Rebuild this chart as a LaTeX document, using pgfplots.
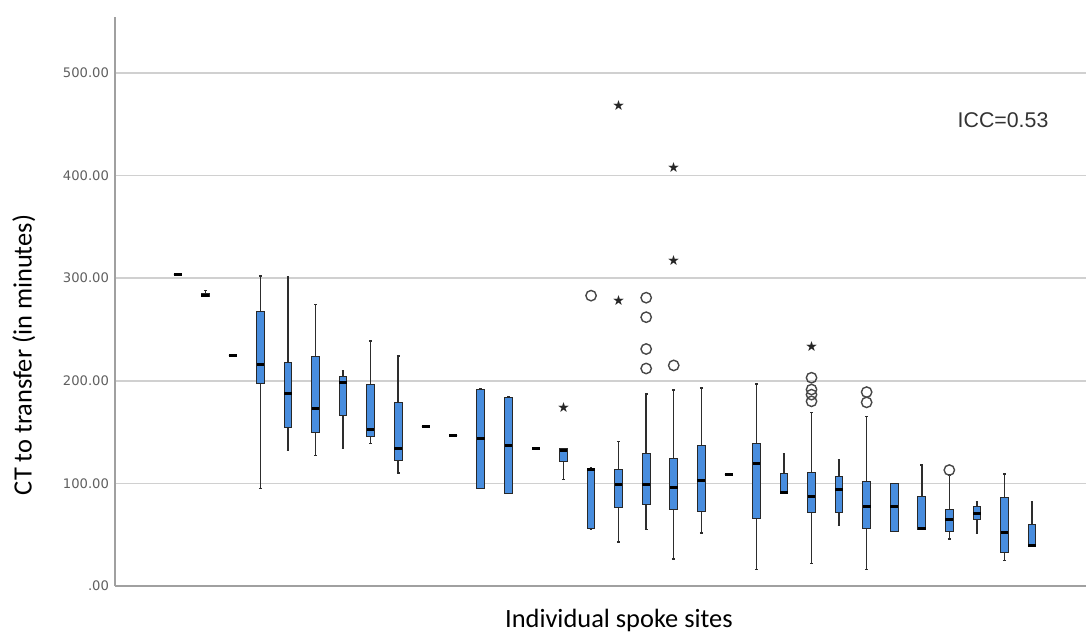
\documentclass[border=0pt]{standalone}
\usepackage{pgfplots}
\pgfplotsset{compat=1.18}
\usepgfplotslibrary{statistics}
\usepackage{fontspec}
\setmainfont{Liberation Sans}
\newfontfamily\calib{Carlito}
\newfontfamily\dejavu{DejaVu Sans}
\definecolor{boxblue}{RGB}{72,141,222}
\definecolor{boxedge}{RGB}{40,40,40}
\definecolor{whisk}{RGB}{45,45,45}
\definecolor{gridc}{RGB}{208,208,208}
\definecolor{axc}{RGB}{160,160,160}
\definecolor{tickc}{RGB}{95,95,95}
\begin{document}
\begin{tikzpicture}
\useasboundingbox (-115bp,-49bp) rectangle (971bp,586bp);
\begin{axis}[
  scale only axis,
  width=971bp, height=569bp,
  xmin=-1.275, xmax=33.96,
  ymin=0, ymax=554.6,
  axis x line*=bottom, axis y line*=left,
  axis line style={draw=axc, line width=1.8bp, -},
  xtick=\empty,
  ytick={0,100,200,300,400,500},
  yticklabels={.00,100.00,200.00,300.00,400.00,500.00},
  major tick length=0pt,
  ymajorgrids,
  grid style={draw=gridc, line width=1.5bp},
  yticklabel style={font=\dejavu\fontsize{13.2}{15}\selectfont, text=tickc, xshift=-2.5bp},
  xlabel={Individual spoke sites},
  xlabel style={font=\calib\fontsize{26.5}{30}\selectfont, at={(axis description cs:0.519,-0.0738)}, anchor=base},
  ylabel={CT to transfer (in minutes)},
  ylabel style={font=\calib\fontsize{26.5}{30}\selectfont, at={(axis description cs:-0.094,0.406)}, anchor=center, rotate=0},
  boxplot/draw direction=y,
  boxplot/box extend=0.28,
  boxplot/whisker extend=0.1,
  boxplot/every box/.style={draw=boxedge, fill=boxblue, line width=1bp},
  boxplot/every median/.style={draw=black, line width=3bp},
  boxplot/every whisker/.style={draw=whisk, line width=1.5bp},
  clip=false,
]
\addplot[boxplot prepared={draw position=1,lower whisker=304,lower quartile=304,median=304,upper quartile=304,upper whisker=304}] coordinates {};
\addplot[boxplot prepared={draw position=2,lower whisker=282,lower quartile=282,median=283,upper quartile=285,upper whisker=288}] coordinates {};
\addplot[boxplot prepared={draw position=3,lower whisker=225,lower quartile=225,median=225,upper quartile=225,upper whisker=225}] coordinates {};
\addplot[boxplot prepared={draw position=4,lower whisker=95,lower quartile=197,median=216,upper quartile=268,upper whisker=302}] coordinates {};
\addplot[boxplot prepared={draw position=5,lower whisker=132,lower quartile=154,median=188,upper quartile=218,upper whisker=301}] coordinates {};
\addplot[boxplot prepared={draw position=6,lower whisker=127,lower quartile=150,median=173,upper quartile=223.5,upper whisker=274.5}] coordinates {};
\addplot[boxplot prepared={draw position=7,lower whisker=134,lower quartile=166,median=198,upper quartile=204,upper whisker=210}] coordinates {};
\addplot[boxplot prepared={draw position=8,lower whisker=139,lower quartile=146,median=153,upper quartile=196,upper whisker=239}] coordinates {};
\addplot[boxplot prepared={draw position=9,lower whisker=110,lower quartile=122,median=134,upper quartile=179,upper whisker=224}] coordinates {};
\addplot[boxplot prepared={draw position=10,lower whisker=155,lower quartile=155,median=155,upper quartile=155,upper whisker=155}] coordinates {};
\addplot[boxplot prepared={draw position=11,lower whisker=147,lower quartile=147,median=147,upper quartile=147,upper whisker=147}] coordinates {};
\addplot[boxplot prepared={draw position=12,lower whisker=95.5,lower quartile=95.5,median=144,upper quartile=192,upper whisker=192}] coordinates {};
\addplot[boxplot prepared={draw position=13,lower whisker=90,lower quartile=90,median=137,upper quartile=184,upper whisker=184}] coordinates {};
\addplot[boxplot prepared={draw position=14,lower whisker=134,lower quartile=134,median=134,upper quartile=134,upper whisker=134}] coordinates {};
\addplot[boxplot prepared={draw position=15,lower whisker=104,lower quartile=121,median=132,upper quartile=134,upper whisker=134}] coordinates {};
\addplot[boxplot prepared={draw position=16,lower whisker=55,lower quartile=56.5,median=114,upper quartile=115,upper whisker=115}] coordinates {};
\addplot[boxplot prepared={draw position=17,lower whisker=43,lower quartile=76.5,median=98.5,upper quartile=114,upper whisker=141}] coordinates {};
\addplot[boxplot prepared={draw position=18,lower whisker=55,lower quartile=79.5,median=98.5,upper quartile=129,upper whisker=187}] coordinates {};
\addplot[boxplot prepared={draw position=19,lower whisker=26.5,lower quartile=75,median=96,upper quartile=124,upper whisker=191}] coordinates {};
\addplot[boxplot prepared={draw position=20,lower whisker=51.5,lower quartile=73,median=103,upper quartile=137,upper whisker=193}] coordinates {};
\addplot[boxplot prepared={draw position=21,lower whisker=109,lower quartile=109,median=109,upper quartile=109,upper whisker=109}] coordinates {};
\addplot[boxplot prepared={draw position=22,lower whisker=16,lower quartile=66,median=119.5,upper quartile=138.5,upper whisker=197}] coordinates {};
\addplot[boxplot prepared={draw position=23,lower whisker=90,lower quartile=90.5,median=91.5,upper quartile=110,upper whisker=129}] coordinates {};
\addplot[boxplot prepared={draw position=24,lower whisker=22,lower quartile=72,median=87,upper quartile=111,upper whisker=169}] coordinates {};
\addplot[boxplot prepared={draw position=25,lower whisker=59,lower quartile=71.5,median=94,upper quartile=106.5,upper whisker=123}] coordinates {};
\addplot[boxplot prepared={draw position=26,lower whisker=16,lower quartile=56,median=77,upper quartile=102,upper whisker=165}] coordinates {};
\addplot[boxplot prepared={draw position=27,lower whisker=53,lower quartile=53,median=77,upper quartile=100,upper whisker=100}] coordinates {};
\addplot[boxplot prepared={draw position=28,lower whisker=55,lower quartile=55.5,median=56,upper quartile=87,upper whisker=118}] coordinates {};
\addplot[boxplot prepared={draw position=29,lower whisker=46,lower quartile=53.5,median=65,upper quartile=75,upper whisker=108}] coordinates {};
\addplot[boxplot prepared={draw position=30,lower whisker=51,lower quartile=65,median=70.5,upper quartile=77,upper whisker=82}] coordinates {};
\addplot[boxplot prepared={draw position=31,lower whisker=25,lower quartile=33,median=52,upper quartile=86,upper whisker=109}] coordinates {};
\addplot[boxplot prepared={draw position=32,lower whisker=38.5,lower quartile=39,median=39.5,upper quartile=60,upper whisker=82}] coordinates {};
% circle outliers
\addplot[only marks, mark=o, mark size=5.2bp, mark options={draw=black!72, line width=1.4bp}] coordinates {
 (16,283) (18,212) (18,231) (18,262) (18,281) (19,215)
 (24,180) (24,186.5) (24,191.5) (24,203) (26,179) (26,189) (29,113)};
% star outliers
\addplot[only marks, mark=text, text mark={★}, text mark as node=true,
  text mark style={font=\dejavu\fontsize{14}{14}\selectfont, text=black!85, inner sep=0pt, anchor=center}] coordinates {
 (15,174) (17,278) (17,468) (19,317) (19,408) (24,233)};
\node[font=\fontsize{21.4}{24}\selectfont, text=black!80, inner sep=0pt, anchor=center] at (axis cs:30.95,454) {ICC=0.53};
\end{axis}
\end{tikzpicture}
\end{document}
